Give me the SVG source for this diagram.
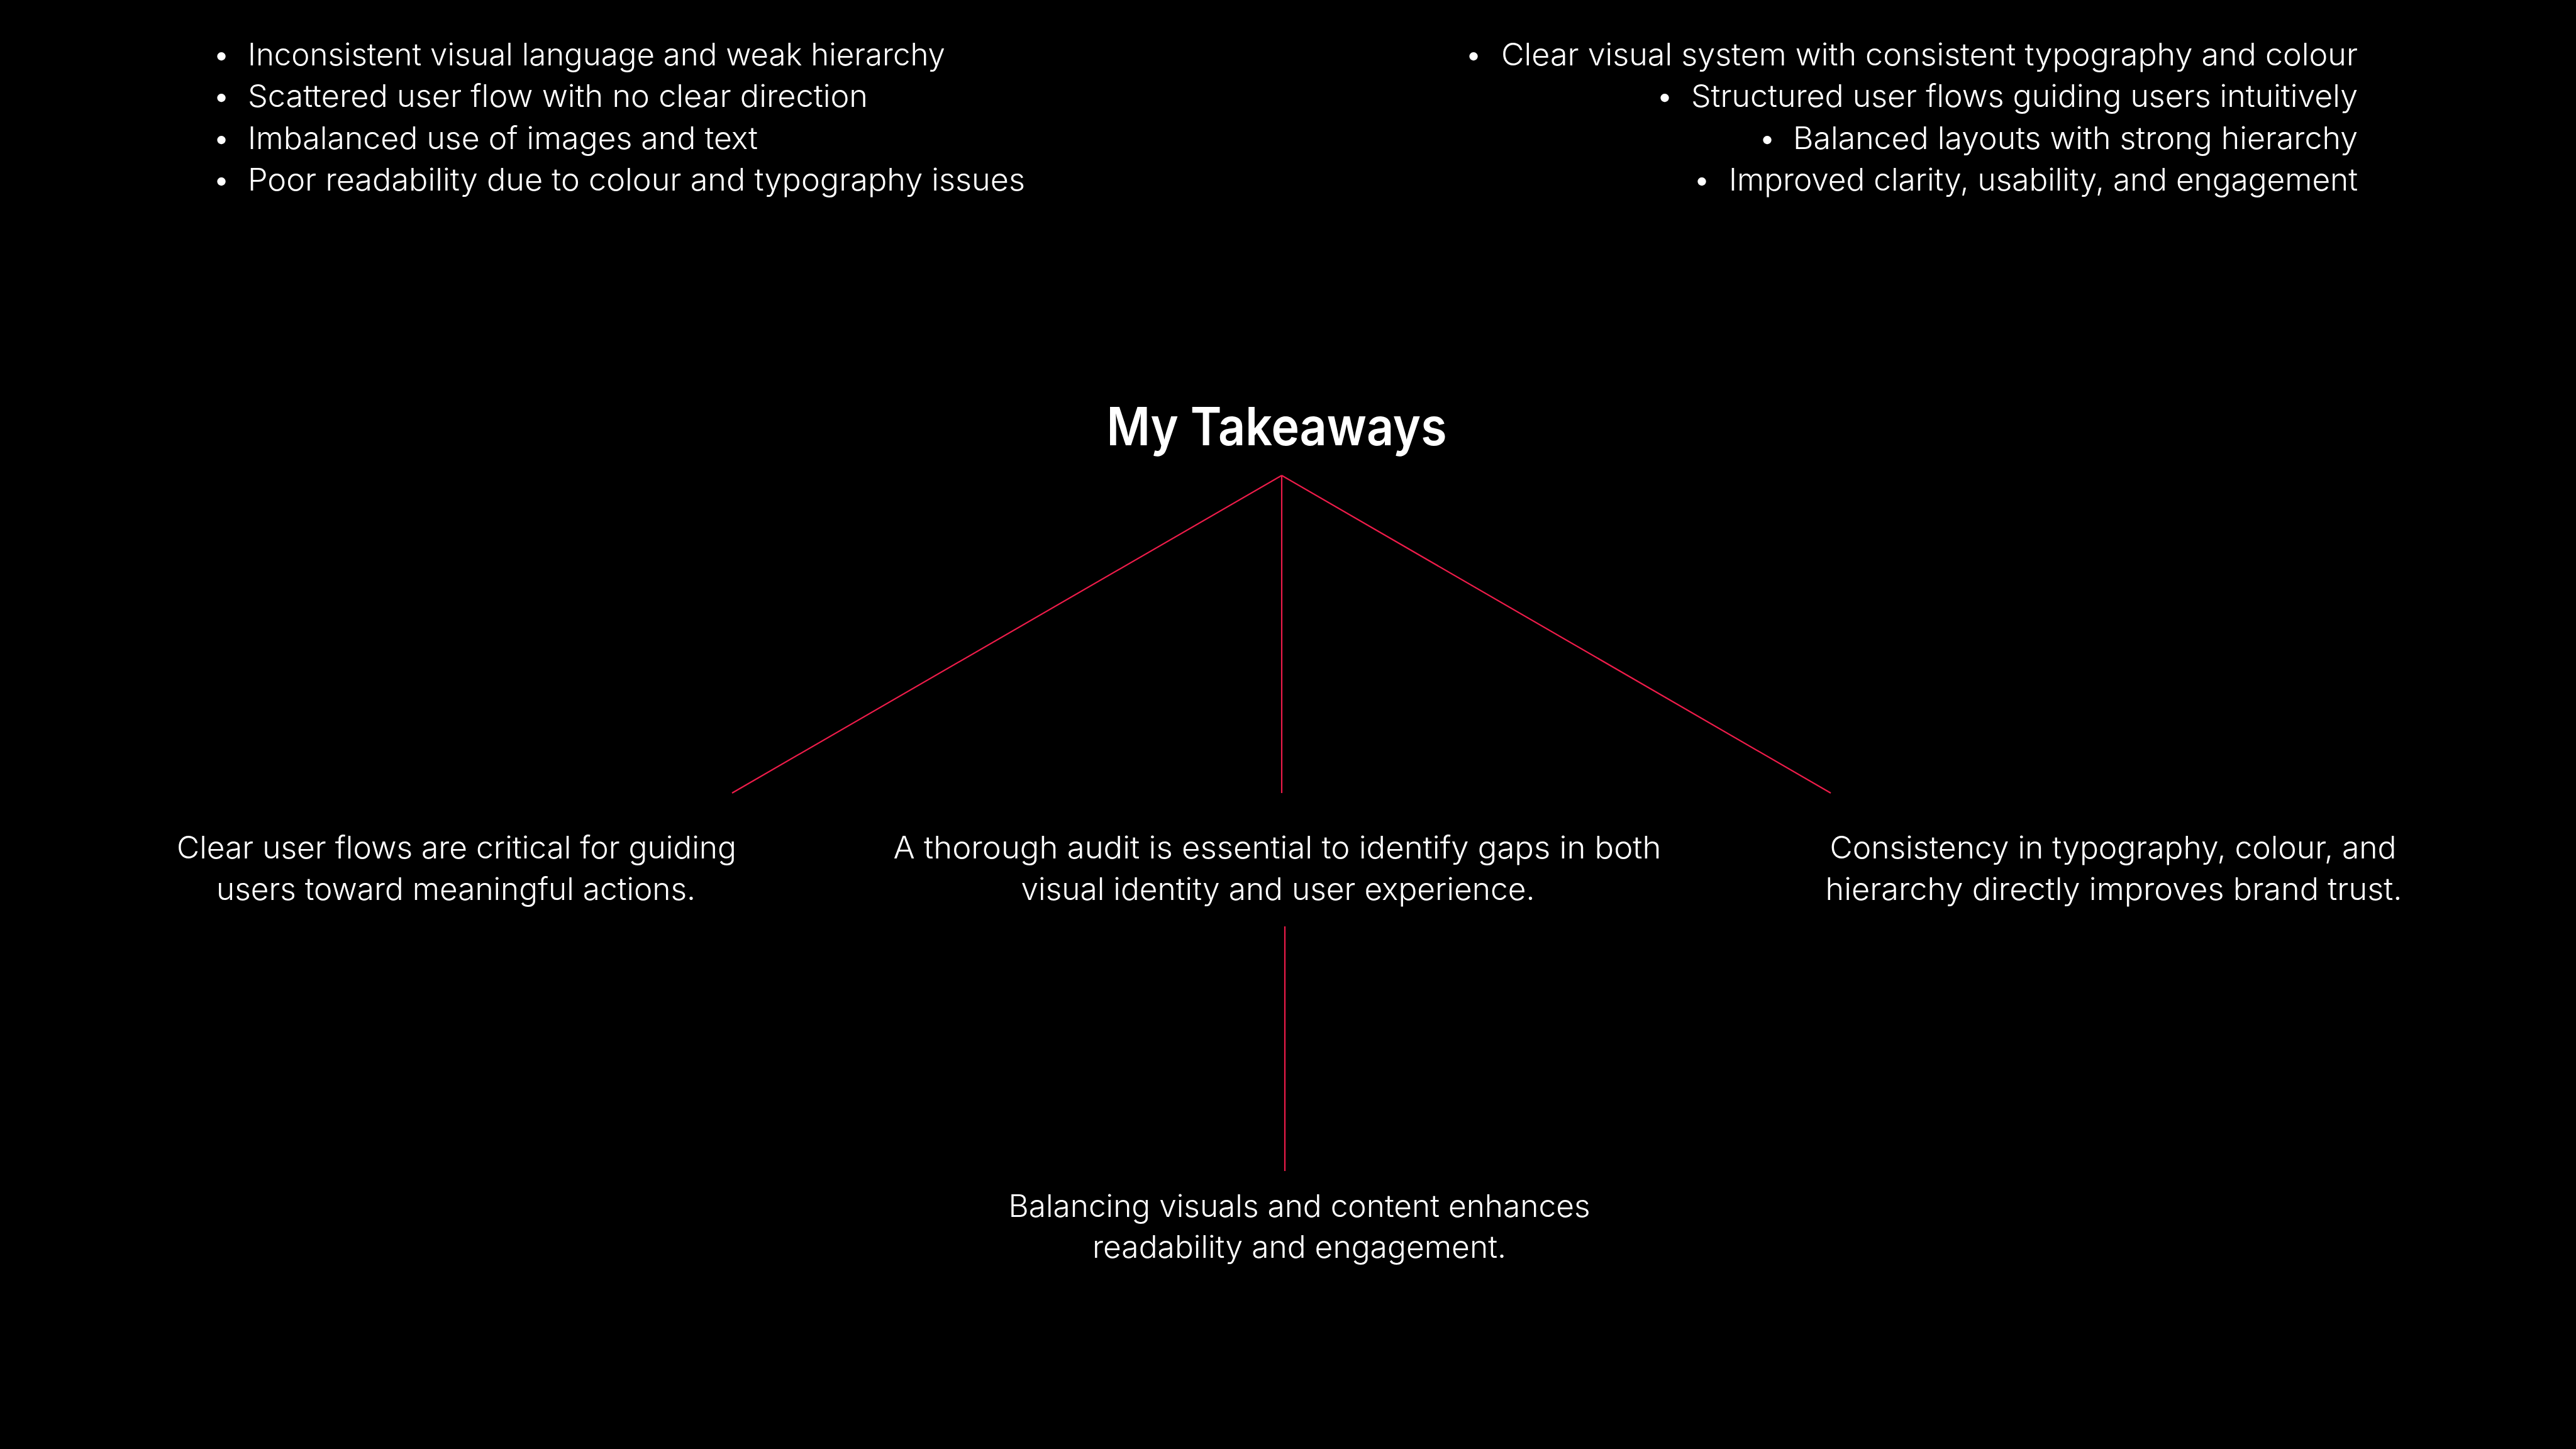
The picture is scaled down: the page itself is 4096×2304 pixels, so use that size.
<svg xmlns="http://www.w3.org/2000/svg" width="4096" height="2304" viewBox="0 0 4096 2304">
<style>
.t{font-family:Inter,"DM Sans","Noto Sans","Liberation Sans",sans-serif;font-weight:300;fill:#ffffff;font-size:49px}
.n{font-family:Inter,"DM Sans","Noto Sans","Liberation Sans",sans-serif;font-weight:300;fill:#ffffff;font-size:49px;text-anchor:middle}
.h{font-family:Inter,"DM Sans","Noto Sans","Liberation Sans",sans-serif;font-weight:600;fill:#ffffff;font-size:84px;text-anchor:middle}
.b{text-anchor:middle}
.c{stroke:#EE1C4A;stroke-width:2.2;fill:none}
</style>
<rect x="0" y="0" width="4096" height="2304" fill="#000000"/>
<g id="before-list">
<text class="t b" x="352" y="104">•</text>
<text class="t" x="394" y="104" textLength="1109" lengthAdjust="spacingAndGlyphs">Inconsistent visual language and weak hierarchy</text>
<text class="t b" x="352" y="170">•</text>
<text class="t" x="394" y="170" textLength="986" lengthAdjust="spacingAndGlyphs">Scattered user flow with no clear direction</text>
<text class="t b" x="352" y="237">•</text>
<text class="t" x="394" y="237" textLength="811" lengthAdjust="spacingAndGlyphs">Imbalanced use of images and text</text>
<text class="t b" x="352" y="303">•</text>
<text class="t" x="394" y="303" textLength="1236" lengthAdjust="spacingAndGlyphs">Poor readability due to colour and typography issues</text>
</g>
<g id="after-list">
<text class="t b" x="2343" y="104">•</text>
<text class="t" x="2387" y="104" textLength="1362" lengthAdjust="spacingAndGlyphs">Clear visual system with consistent typography and colour</text>
<text class="t b" x="2647" y="170">•</text>
<text class="t" x="2689" y="170" textLength="1060" lengthAdjust="spacingAndGlyphs">Structured user flows guiding users intuitively</text>
<text class="t b" x="2810" y="237">•</text>
<text class="t" x="2851" y="237" textLength="898" lengthAdjust="spacingAndGlyphs">Balanced layouts with strong hierarchy</text>
<text class="t b" x="2706" y="303">•</text>
<text class="t" x="2749" y="303" textLength="1000" lengthAdjust="spacingAndGlyphs">Improved clarity, usability, and engagement</text>
</g>
<g id="title">
<text class="h" x="2030" y="708" textLength="541" lengthAdjust="spacingAndGlyphs">My Takeaways</text>
</g>
<g id="connectors">
<line class="c" x1="2038" y1="756" x2="1164" y2="1261"/>
<line class="c" x1="2038" y1="756" x2="2038" y2="1261"/>
<line class="c" x1="2038" y1="756" x2="2911" y2="1261"/>
<line class="c" x1="2043" y1="1473" x2="2043" y2="1862"/>
</g>
<g id="node-left">
<text class="n" x="726" y="1365" textLength="890" lengthAdjust="spacingAndGlyphs">Clear user flows are critical for guiding</text>
<text class="n" x="725" y="1431" textLength="762" lengthAdjust="spacingAndGlyphs">users toward meaningful actions.</text>
</g>
<g id="node-center">
<text class="n" x="2031" y="1365" textLength="1221" lengthAdjust="spacingAndGlyphs">A thorough audit is essential to identify gaps in both</text>
<text class="n" x="2032" y="1431" textLength="817" lengthAdjust="spacingAndGlyphs">visual identity and user experience.</text>
</g>
<g id="node-right">
<text class="n" x="3360" y="1365" textLength="901" lengthAdjust="spacingAndGlyphs">Consistency in typography, colour, and</text>
<text class="n" x="3361" y="1431" textLength="917" lengthAdjust="spacingAndGlyphs">hierarchy directly improves brand trust.</text>
</g>
<g id="node-bottom">
<text class="n" x="2066" y="1935" textLength="925" lengthAdjust="spacingAndGlyphs">Balancing visuals and content enhances</text>
<text class="n" x="2066" y="2000" textLength="658" lengthAdjust="spacingAndGlyphs">readability and engagement.</text>
</g>
</svg>
